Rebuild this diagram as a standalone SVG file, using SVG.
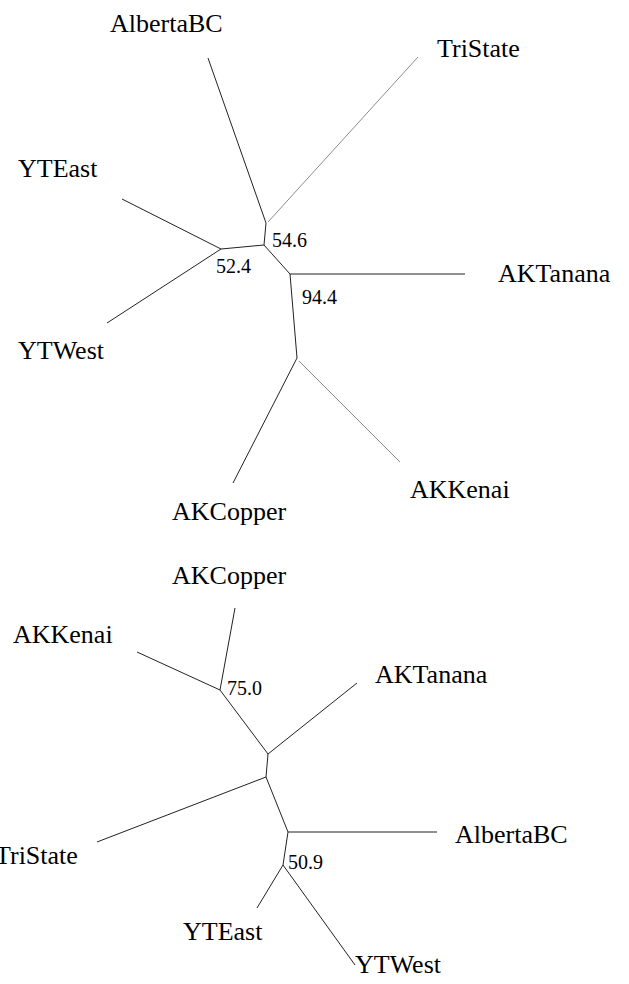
<svg xmlns="http://www.w3.org/2000/svg" width="629" height="984" viewBox="0 0 629 984">
  <style>
    .edge { stroke: #222; stroke-width: 1; fill: none; }
    .faint { stroke: #8c8c8c; stroke-width: 1; fill: none; }
    .tip { font-family: "Liberation Serif", "Times New Roman", serif; font-size: 26px; fill: #000; }
    .boot { font-family: "Liberation Serif", "Times New Roman", serif; font-size: 20px; fill: #000; }
  </style>
  <rect width="629" height="984" fill="#fff"/>

  <!-- Upper unrooted tree -->
  <g id="tree-upper">
    <g id="upper-edges">
      <line class="edge" x1="208" y1="58" x2="266" y2="223"/>
      <line class="faint" x1="418" y1="57" x2="268" y2="222"/>
      <line class="edge" x1="266" y1="223" x2="264" y2="245"/>
      <line class="edge" x1="264" y1="245" x2="221" y2="249"/>
      <line class="edge" x1="122" y1="199" x2="221" y2="249"/>
      <line class="edge" x1="107" y1="323" x2="221" y2="249"/>
      <line class="edge" x1="264" y1="245" x2="290" y2="274"/>
      <line class="edge" x1="290" y1="274" x2="465" y2="274"/>
      <line class="edge" x1="290" y1="274" x2="297" y2="358"/>
      <line class="edge" x1="297" y1="358" x2="233" y2="483"/>
      <line class="faint" x1="299" y1="361" x2="400" y2="462"/>
    </g>
    <g id="upper-AlbertaBC"><text class="tip" x="110" y="32">AlbertaBC</text></g>
    <g id="upper-TriState"><text class="tip" x="437" y="57">TriState</text></g>
    <g id="upper-YTEast"><text class="tip" x="18" y="177">YTEast</text></g>
    <g id="upper-YTWest"><text class="tip" x="18" y="359">YTWest</text></g>
    <g id="upper-AKTanana"><text class="tip" x="498" y="282">AKTanana</text></g>
    <g id="upper-AKCopper"><text class="tip" x="172" y="520">AKCopper</text></g>
    <g id="upper-AKKenai"><text class="tip" x="410" y="498">AKKenai</text></g>
    <g id="upper-support">
      <text class="boot" x="272" y="247">54.6</text>
      <text class="boot" x="216" y="273">52.4</text>
      <text class="boot" x="302" y="304">94.4</text>
    </g>
  </g>

  <!-- Lower unrooted tree -->
  <g id="tree-lower">
    <g id="lower-edges">
      <line class="edge" x1="235" y1="608" x2="220" y2="690"/>
      <line class="edge" x1="137" y1="652" x2="220" y2="690"/>
      <line class="edge" x1="220" y1="690" x2="268" y2="754"/>
      <line class="edge" x1="357" y1="683" x2="268" y2="754"/>
      <line class="edge" x1="268" y1="754" x2="266" y2="777"/>
      <line class="edge" x1="97" y1="842" x2="266" y2="777"/>
      <line class="edge" x1="266" y1="777" x2="288" y2="832"/>
      <line class="edge" x1="288" y1="832" x2="437" y2="832"/>
      <line class="edge" x1="288" y1="832" x2="283" y2="865"/>
      <line class="edge" x1="283" y1="865" x2="257" y2="908"/>
      <line class="edge" x1="283" y1="865" x2="355" y2="965"/>
    </g>
    <g id="lower-AKCopper"><text class="tip" x="172" y="584">AKCopper</text></g>
    <g id="lower-AKKenai"><text class="tip" x="13" y="643">AKKenai</text></g>
    <g id="lower-AKTanana"><text class="tip" x="375" y="683">AKTanana</text></g>
    <g id="lower-AlbertaBC"><text class="tip" x="455" y="843">AlbertaBC</text></g>
    <g id="lower-TriState"><text class="tip" x="-5" y="864">TriState</text></g>
    <g id="lower-YTEast"><text class="tip" x="183" y="940">YTEast</text></g>
    <g id="lower-YTWest"><text class="tip" x="355" y="973">YTWest</text></g>
    <g id="lower-support">
      <text class="boot" x="227" y="695">75.0</text>
      <text class="boot" x="288" y="869">50.9</text>
    </g>
  </g>
</svg>
